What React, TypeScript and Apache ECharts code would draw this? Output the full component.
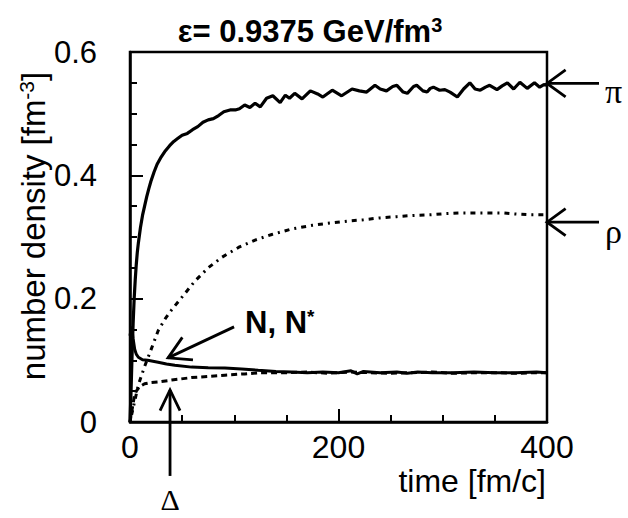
import React, { useEffect, useRef } from 'react';
import * as echarts from 'echarts';

// ---- data ----
const xTicks = [0, 200, 400];
const yTicks = [0, 0.2, 0.4, 0.6];

const piTime = [0, 1, 2, 3, 4, 5, 6, 7, 8, 10, 12, 14, 16, 18, 20, 23, 26, 30, 34, 38, 42, 46, 50, 55, 60, 65, 70, 75, 80, 85, 90, 96, 101, 105, 110, 115, 120, 125, 131, 137, 144, 149, 153, 158, 165, 173, 180, 185, 194, 203, 213, 220, 227, 235, 240, 246, 252, 256, 262, 266, 272, 275, 281, 285, 288, 291, 297, 302, 307, 314, 320, 326, 331, 336, 341, 345, 352, 357, 362, 368, 374, 381, 388, 393, 397, 400];
const piValue = [0.0, 0.05, 0.11, 0.16, 0.2, 0.23, 0.255, 0.275, 0.29, 0.315, 0.335, 0.35, 0.365, 0.378, 0.39, 0.405, 0.418, 0.43, 0.44, 0.448, 0.455, 0.46, 0.465, 0.468, 0.474, 0.479, 0.486, 0.49, 0.492, 0.497, 0.503, 0.506, 0.506, 0.508, 0.514, 0.51, 0.517, 0.511, 0.525, 0.529, 0.518, 0.53, 0.525, 0.533, 0.524, 0.537, 0.532, 0.527, 0.538, 0.529, 0.54, 0.537, 0.535, 0.546, 0.54, 0.537, 0.544, 0.546, 0.535, 0.533, 0.544, 0.546, 0.537, 0.535, 0.541, 0.543, 0.538, 0.539, 0.535, 0.527, 0.54, 0.55, 0.54, 0.538, 0.543, 0.546, 0.539, 0.545, 0.55, 0.54, 0.551, 0.541, 0.55, 0.543, 0.547, 0.546];

const rhoTime = [0, 2, 4, 6, 8, 11, 14, 19, 27, 34, 40, 53, 62, 75, 88, 104, 120, 136, 155, 175, 194, 210, 224, 240, 256, 272, 288, 303, 317, 336, 358, 372, 384, 400];
const rhoValue = [0.0, 0.015, 0.03, 0.045, 0.06, 0.075, 0.09, 0.112, 0.148, 0.168, 0.182, 0.209, 0.228, 0.25, 0.267, 0.283, 0.295, 0.304, 0.313, 0.319, 0.323, 0.326, 0.328, 0.331, 0.333, 0.335, 0.336, 0.338, 0.339, 0.339, 0.339, 0.337, 0.336, 0.336];

const nTime = [0, 1.5, 3, 4.5, 6, 8, 12, 17, 27, 35, 43, 59, 75, 91, 107, 123, 140, 155, 170, 185, 200, 212, 218, 224, 240, 256, 266, 276, 290, 310, 330, 350, 370, 390, 400];
const nValue = [0.14, 0.155, 0.135, 0.118, 0.11, 0.105, 0.101, 0.1, 0.097, 0.094, 0.092, 0.089, 0.088, 0.0875, 0.086, 0.084, 0.082, 0.081, 0.08, 0.081, 0.08, 0.083, 0.078, 0.082, 0.08, 0.081, 0.079, 0.081, 0.08, 0.08, 0.081, 0.08, 0.08, 0.081, 0.08];

const deltaTime = [0, 2, 4, 6, 9, 14, 20, 27, 40, 59, 75, 91, 110, 125, 150, 170, 190, 210, 230, 250, 270, 290, 310, 330, 350, 370, 390, 400];
const deltaValue = [0.0, 0.02, 0.04, 0.05, 0.057, 0.062, 0.064, 0.065, 0.068, 0.072, 0.074, 0.076, 0.078, 0.08, 0.08, 0.081, 0.079, 0.081, 0.08, 0.079, 0.08, 0.081, 0.079, 0.08, 0.08, 0.079, 0.08, 0.08];

// annotation anchors in data coordinates
const piArrowTip = [400, 0.549];
const rhoArrowTip = [400, 0.324];
const nArrowTip = [36.5, 0.104];
const deltaArrowTip = [38.4, 0.052];

const SANS = '"Liberation Sans", Arial, Helvetica, sans-serif';
const SERIF = '"Liberation Serif", "DejaVu Serif", serif';

function zip(t: number[], v: number[]) {
  return t.map((x, i) => [x, v[i]]);
}

function arrow(tip: number[], tail: number[], headLen: number, headAng: number) {
  const dx = tail[0] - tip[0];
  const dy = tail[1] - tip[1];
  const a = Math.atan2(dy, dx);
  const h1 = [tip[0] + headLen * Math.cos(a + headAng), tip[1] + headLen * Math.sin(a + headAng)];
  const h2 = [tip[0] + headLen * Math.cos(a - headAng), tip[1] + headLen * Math.sin(a - headAng)];
  const st = { stroke: '#000', lineWidth: 2.8 };
  return [
    { type: 'line', shape: { x1: tip[0], y1: tip[1], x2: tail[0], y2: tail[1] }, style: st, silent: true },
    { type: 'polyline', shape: { points: [h1, tip, h2] }, style: { ...st, fill: 'none' }, silent: true },
  ];
}

export default function App() {
  const ref = useRef<HTMLDivElement>(null);
  useEffect(() => {
    const chart = echarts.init(ref.current!, null, { renderer: 'svg' });
    const lineBase = { type: 'line', showSymbol: false, symbol: 'none', smooth: false, clip: false };
    chart.setOption({
      animation: false,
      backgroundColor: '#fff',
      grid: { left: 130, right: 81, top: 52, bottom: 96, show: true, borderColor: '#000', borderWidth: 2.5, backgroundColor: 'transparent' },
      xAxis: {
        type: 'value', min: 0, max: 400, interval: 200,
        axisLine: { show: true, lineStyle: { color: '#000', width: 2.5 } },
        axisTick: { show: true, inside: true, length: 13, lineStyle: { color: '#000', width: 2 } },
        minorTick: { show: true, splitNumber: 4, length: 7, lineStyle: { color: '#000', width: 2 } },
        splitLine: { show: false },
        axisLabel: { color: '#000', fontSize: 32, fontFamily: SANS, margin: 9, formatter: (v: number) => (xTicks.includes(v) ? String(v) : '') },
      },
      yAxis: {
        type: 'value', min: 0, max: 0.6, interval: 0.2,
        axisLine: { show: true, lineStyle: { color: '#000', width: 2.5 } },
        axisTick: { show: true, inside: true, length: 13, lineStyle: { color: '#000', width: 2 } },
        minorTick: { show: true, splitNumber: 4, length: 7, lineStyle: { color: '#000', width: 2 } },
        splitLine: { show: false },
        axisLabel: {
          color: '#000', fontSize: 31, fontFamily: SANS, margin: 33,
          formatter: (v: number) => {
            const t = yTicks.find((y) => Math.abs(y - v) < 1e-9);
            if (t === undefined) return '';
            return t === 0 ? '0' : t.toFixed(1);
          },
        },
      },
      series: [
        { ...lineBase, name: 'pi', data: zip(piTime, piValue), lineStyle: { color: '#000', width: 3.2 } },
        { ...lineBase, name: 'rho', data: zip(rhoTime, rhoValue), lineStyle: { color: '#000', width: 3, type: [2, 5, 5, 5] } },
        { ...lineBase, name: 'N', data: zip(nTime, nValue), lineStyle: { color: '#000', width: 3 } },
        { ...lineBase, name: 'Delta', data: zip(deltaTime, deltaValue), lineStyle: { color: '#000', width: 3, type: [6, 4] } },
      ],
    });

    const px = (p: number[]) => chart.convertToPixel({ gridIndex: 0 }, p) as number[];
    const pPi = px(piArrowTip);
    const pRho = px(rhoArrowTip);
    const pN = px(nArrowTip);
    const pD = px(deltaArrowTip);

    const graphics: any[] = [
      {
        type: 'text', x: 310, y: 31,
        style: {
          text: 'ε= 0.9375 GeV/fm{sup|3}', fill: '#000', font: `bold 31px ${SANS}`,
          align: 'center', verticalAlign: 'middle',
          rich: { sup: { fontSize: 20, fontWeight: 'bold', fontFamily: SANS, verticalAlign: 'top', padding: [0, 0, 12, 0] } },
        },
      },
      {
        type: 'text', x: 33, y: 226, rotation: Math.PI / 2,
        style: {
          text: 'number density [fm{sup|-3}]', fill: '#000', font: `33px ${SANS}`,
          align: 'center', verticalAlign: 'middle',
          rich: { sup: { fontSize: 21, fontFamily: SANS, verticalAlign: 'top', padding: [0, 0, 13, 0] } },
        },
      },
      {
        type: 'text', x: 546, y: 481,
        style: { text: 'time [fm/c]', fill: '#000', font: `32px ${SANS}`, align: 'right', verticalAlign: 'middle' },
      },
      { type: 'text', x: 605, y: pPi[1] + 8, style: { text: 'π', fill: '#000', font: `34px ${SERIF}`, align: 'left', verticalAlign: 'middle' } },
      { type: 'text', x: 605, y: pRho[1] + 9, style: { text: 'ρ', fill: '#000', font: `34px ${SERIF}`, align: 'left', verticalAlign: 'middle' } },
      {
        type: 'text', x: pN[0] + 77, y: pN[1] - 35,
        style: {
          text: 'N, N{sup|*}', fill: '#000', font: `bold 31px ${SANS}`, align: 'left', verticalAlign: 'middle',
          rich: { sup: { fontSize: 19, fontWeight: 'bold', fontFamily: SANS, verticalAlign: 'top', padding: [0, 0, 12, 0] } },
        },
      },
      { type: 'text', x: pD[0], y: pD[1] + 110, style: { text: 'Δ', fill: '#000', font: `30px ${SERIF}`, align: 'center', verticalAlign: 'middle' } },
      ...arrow(pPi, [pPi[0] + 52, pPi[1]], 23, Math.PI / 5),
      ...arrow(pRho, [pRho[0] + 52, pRho[1]], 23, Math.PI / 5),
      ...arrow(pN, [pN[0] + 66, pN[1] - 31], 25, Math.PI / 6),
      ...arrow(pD, [pD[0], pD[1] + 86], 23, Math.PI / 7),
    ];
    chart.setOption({ graphic: graphics });
    return () => chart.dispose();
  }, []);
  return <div ref={ref} style={{ position: 'absolute', left: 0, top: 0, width: 628, height: 518, background: '#fff' }} />;
}
